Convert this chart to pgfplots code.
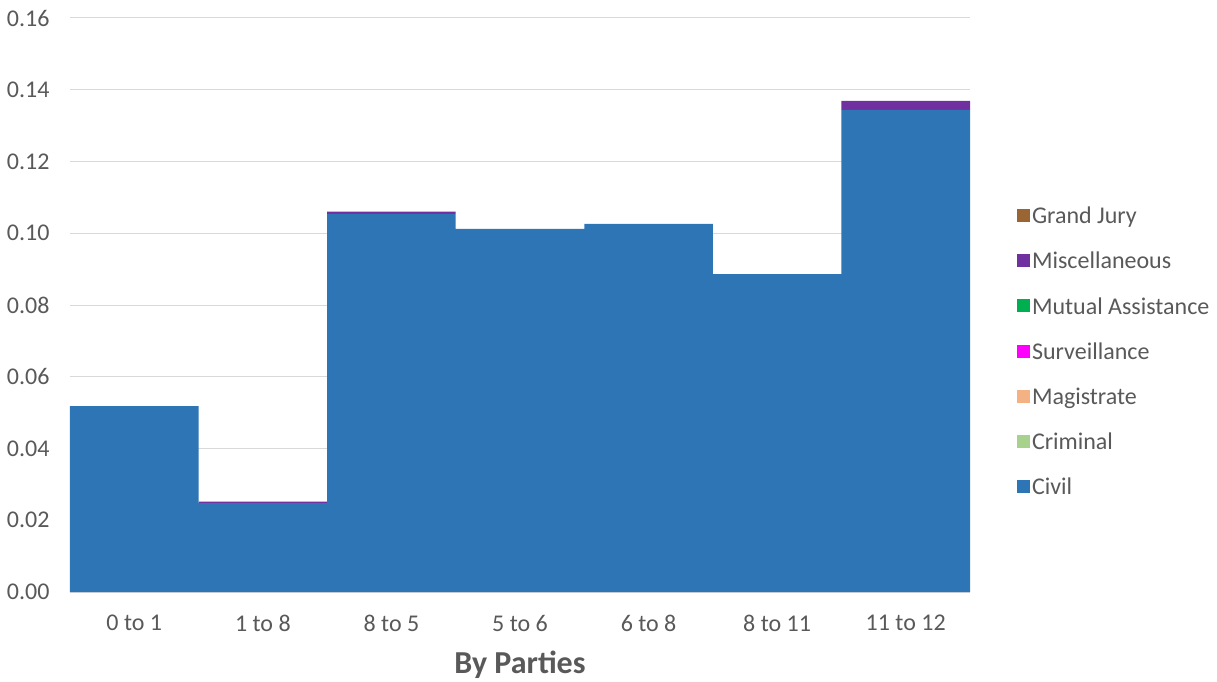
\documentclass[border=0pt]{standalone}
\usepackage{pgfplots}
\pgfplotsset{compat=1.18}
\usepackage{fontspec}
\setmainfont{Carlito}
\definecolor{civil}{HTML}{2E75B6}
\definecolor{criminal}{HTML}{A9D18E}
\definecolor{magistrate}{HTML}{F4B183}
\definecolor{surv}{HTML}{FF00FF}
\definecolor{mutual}{HTML}{00B050}
\definecolor{misc}{HTML}{7030A0}
\definecolor{gjury}{HTML}{996633}
\definecolor{txt}{HTML}{595959}
\definecolor{gridc}{HTML}{D9D9D9}
\begin{document}
\begin{tikzpicture}
\path[use as bounding box] (-70pt,-89pt) rectangle (1147pt,592pt);
\begin{axis}[
  scale only axis, width=900pt, height=574pt,
  ybar stacked, bar width=1,
  xmin=-0.5, xmax=6.5, ymin=0, ymax=0.16,
  xtick={0,...,6},
  xticklabels={0 to 1,1 to 8,8 to 5,5 to 6,6 to 8,8 to 11,11 to 12},
  ytick={0,0.02,...,0.161},
  ymajorgrids, grid style={gridc, line width=1pt},
  major tick length=0pt,
  axis x line*=bottom, axis y line*=left,
  x axis line style={gridc, line width=1pt, -},
  y axis line style={draw=none},
  /pgf/number format/.cd, fixed, fixed zerofill, precision=2, assume math mode=true,
  /pgfplots/.cd,
  ticklabel style={font=\fontsize{24}{28}\selectfont, text=txt},
  yticklabel style={anchor=east, xshift=-17pt},
  xticklabel style={anchor=center, yshift=-31pt},
  xlabel={By Parties},
  xlabel style={at={(rel axis cs:0.5,0)}, anchor=center, yshift=-73pt, font=\fontsize{32}{38}\selectfont\bfseries, text=txt},
  legend style={at={(rel axis cs:1,0)}, anchor=south west, xshift=47pt, yshift=94pt, draw=none, fill=none, inner sep=0pt, outer sep=0pt, font=\fontsize{24}{28}\selectfont, text=txt, row sep=23pt, cells={anchor=west}},
  legend cell align=left,
  reverse legend,
  legend image code/.code={\fill[#1] (-4pt,-6pt) rectangle (9pt,7pt);},
  every axis plot/.append style={draw=none},
]
\addplot[fill=civil] coordinates {(0,0.0518) (1,0.0248) (2,0.1054) (3,0.1012) (4,0.1026) (5,0.0886) (6,0.1344)};
\addplot[fill=criminal] coordinates {(0,0) (1,0) (2,0) (3,0) (4,0) (5,0) (6,0)};
\addplot[fill=magistrate] coordinates {(0,0) (1,0) (2,0) (3,0) (4,0) (5,0) (6,0)};
\addplot[fill=surv] coordinates {(0,0) (1,0) (2,0) (3,0) (4,0) (5,0) (6,0)};
\addplot[fill=mutual] coordinates {(0,0) (1,0) (2,0) (3,0) (4,0) (5,0) (6,0)};
\addplot[fill=misc] coordinates {(0,0) (1,0.0004) (2,0.0006) (3,0) (4,0) (5,0) (6,0.0025)};
\addplot[fill=gjury] coordinates {(0,0) (1,0) (2,0) (3,0) (4,0) (5,0) (6,0)};
\legend{Civil,Criminal,Magistrate,Surveillance,Mutual Assistance,Miscellaneous,Grand Jury}
\end{axis}
\end{tikzpicture}
\end{document}
